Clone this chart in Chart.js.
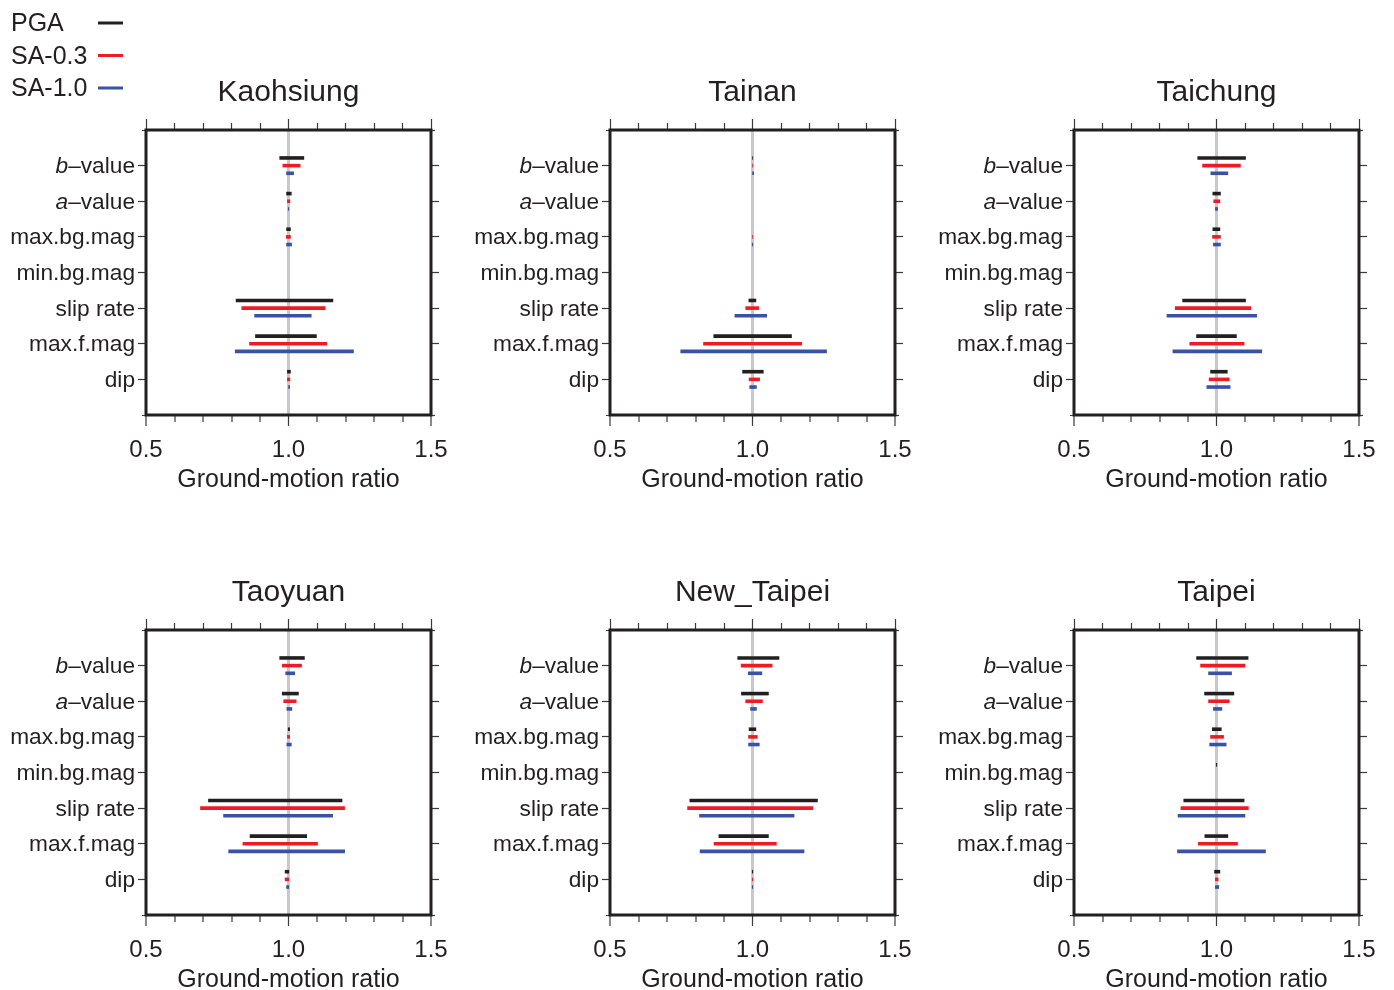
<!DOCTYPE html>
<html>
<head>
<meta charset="utf-8">
<script src="https://cdn.jsdelivr.net/npm/chart.js@4.4.1/dist/chart.umd.min.js"></script>
<style>
  html, body { margin: 0; padding: 0; background: #ffffff; overflow: hidden; }
  #wrap { position: relative; width: 1394px; height: 990px; }
  #wrap canvas { position: absolute; }
</style>
</head>
<body>
<div id="wrap"></div>
<script>
// Source parameters, top to bottom
const params = ['b–value', 'a–value', 'max.bg.mag', 'min.bg.mag', 'slip rate', 'max.f.mag', 'dip'];
const cities = ['Kaohsiung', 'Tainan', 'Taichung', 'Taoyuan', 'New_Taipei', 'Taipei'];
const seriesNames = ['PGA', 'SA-0.3', 'SA-1.0'];
const xTickValues = [0.5, 1.0, 1.5];

// Ground-motion ratio ranges [low, high] per parameter (null = no spread)
const kaohsiungPGA  = [[0.968, 1.055], [0.992, 1.011], [0.992, 1.008], null, [0.815, 1.157], [0.883, 1.099], [0.995, 1.008]];
const kaohsiungSA03 = [[0.979, 1.042], [0.995, 1.006], [0.991, 1.008], null, [0.835, 1.130], [0.862, 1.136], [0.995, 1.006]];
const kaohsiungSA10 = [[0.992, 1.019], [0.998, 1.002], [0.992, 1.012], null, [0.880, 1.081], [0.812, 1.229], [0.999, 1.005]];

const tainanPGA  = [[0.999, 1.002], null, null, null, [0.986, 1.013], [0.863, 1.138], [0.964, 1.039]];
const tainanSA03 = [[0.999, 1.002], null, [0.999, 1.002], null, [0.975, 1.023], [0.827, 1.174], [0.987, 1.026]];
const tainanSA10 = [[0.999, 1.005], null, [0.998, 1.002], null, [0.937, 1.051], [0.747, 1.261], [0.989, 1.015]];

const taichungPGA  = [[0.933, 1.103], [0.986, 1.015], [0.986, 1.013], null, [0.880, 1.103], [0.929, 1.071], [0.978, 1.039]];
const taichungSA03 = [[0.950, 1.085], [0.989, 1.013], [0.985, 1.015], null, [0.854, 1.122], [0.905, 1.098], [0.973, 1.046]];
const taichungSA10 = [[0.979, 1.041], [0.995, 1.005], [0.988, 1.015], null, [0.825, 1.142], [0.846, 1.160], [0.965, 1.049]];

const taoyuanPGA  = [[0.968, 1.057], [0.977, 1.036], [0.998, 1.005], null, [0.718, 1.189], [0.864, 1.065], [0.987, 1.002]];
const taoyuanSA03 = [[0.977, 1.047], [0.982, 1.028], [0.995, 1.005], null, [0.690, 1.198], [0.839, 1.103], [0.987, 1.002]];
const taoyuanSA10 = [[0.989, 1.023], [0.993, 1.013], [0.993, 1.011], null, [0.771, 1.156], [0.789, 1.198], [0.992, 1.002]];

const newTaipeiPGA  = [[0.947, 1.094], [0.960, 1.057], [0.987, 1.013], null, [0.779, 1.229], [0.881, 1.057], [0.998, 1.002]];
const newTaipeiSA03 = [[0.959, 1.070], [0.975, 1.036], [0.985, 1.018], null, [0.771, 1.213], [0.864, 1.085], [0.998, 1.002]];
const newTaipeiSA10 = [[0.984, 1.034], [0.992, 1.015], [0.985, 1.025], null, [0.813, 1.147], [0.815, 1.182], [0.998, 1.002]];

const taipeiPGA  = [[0.929, 1.112], [0.957, 1.062], [0.984, 1.018], [0.998, 1.002], [0.884, 1.098], [0.958, 1.041], [0.992, 1.013]];
const taipeiSA03 = [[0.943, 1.101], [0.971, 1.046], [0.978, 1.026], null, [0.874, 1.113], [0.935, 1.075], [0.995, 1.007]];
const taipeiSA10 = [[0.971, 1.054], [0.988, 1.020], [0.975, 1.035], null, [0.864, 1.101], [0.862, 1.173], [0.995, 1.009]];

const citySeries = [
  [kaohsiungPGA, kaohsiungSA03, kaohsiungSA10],
  [tainanPGA, tainanSA03, tainanSA10],
  [taichungPGA, taichungSA03, taichungSA10],
  [taoyuanPGA, taoyuanSA03, taoyuanSA10],
  [newTaipeiPGA, newTaipeiSA03, newTaipeiSA10],
  [taipeiPGA, taipeiSA03, taipeiSA10]
];

// ---- styling ----
const FONT = '"Liberation Sans", Arial, Helvetica, sans-serif';
const INK = '#231f20';
const TICK_INK = '#3a3a3a';
const SERIES_COLORS = ['#231f20', '#ed1c24', '#3953a4'];
const PANEL_W = 464, PANEL_H = 500;

const tickVal = c => (c && c.tick) ? c.tick.value : NaN;
const isOne = v => Math.abs(v - 1) < 1e-9;
const isMajor = v => xTickValues.some(t => Math.abs(v - t) < 1e-9);

// one empty slot above and below the parameter rows
const rowLabels = [''].concat(params, ['']);
const padRows = arr => [null].concat(arr, [null]);

// Parameter names on the left axis; the letter before the dash is italic
const paramLabelPlugin = {
  id: 'paramLabels',
  afterDraw(chart) {
    const s = chart.scales.y;
    const ctx = chart.ctx;
    const size = 22.7;
    const normal = size + 'px ' + FONT;
    const italic = 'italic ' + size + 'px ' + FONT;
    const xr = chart.chartArea.left - 11;
    ctx.save();
    ctx.fillStyle = INK;
    ctx.textBaseline = 'alphabetic';
    ctx.textAlign = 'left';
    s.ticks.forEach((t, i) => {
      const text = rowLabels[t.value];
      if (!text) return;
      const y = s.getPixelForTick(i) + 7.5;
      const k = text.indexOf('–');
      if (k > 0) {
        const head = text.slice(0, k), rest = text.slice(k);
        ctx.font = normal;
        const wr = ctx.measureText(rest).width;
        ctx.fillText(rest, xr - wr, y);
        ctx.font = italic;
        const wh = ctx.measureText(head).width;
        ctx.fillText(head, xr - wr - wh, y);
      } else {
        ctx.font = normal;
        const w = ctx.measureText(text).width;
        ctx.fillText(text, xr - w, y);
      }
    });
    ctx.restore();
  }
};

// Heavy box around each plot area
const framePlugin = {
  id: 'frame',
  afterDatasetsDraw(chart) {
    const {left, top, right, bottom} = chart.chartArea;
    const ctx = chart.ctx;
    ctx.save();
    ctx.strokeStyle = INK;
    ctx.lineWidth = 3;
    ctx.strokeRect(left, top, right - left, bottom - top);
    ctx.restore();
  }
};

// Series key in the top-left corner (first panel only)
const keyPlugin = {
  id: 'seriesKey',
  afterDraw(chart, args, opts) {
    if (!opts.show) return;
    const ctx = chart.ctx;
    ctx.save();
    ctx.font = '25px ' + FONT;
    ctx.textBaseline = 'alphabetic';
    ctx.textAlign = 'left';
    chart.data.datasets.forEach((ds, i) => {
      const base = 31 + i * 32.5;
      ctx.fillStyle = INK;
      ctx.fillText(ds.label, 11, base);
      ctx.strokeStyle = ds.backgroundColor;
      ctx.lineWidth = 3;
      ctx.beginPath();
      ctx.moveTo(98, base - 8);
      ctx.lineTo(123, base - 8);
      ctx.stroke();
    });
    ctx.restore();
  }
};

const wrap = document.getElementById('wrap');

cities.forEach((city, p) => {
  const canvas = document.createElement('canvas');
  canvas.width = PANEL_W;
  canvas.height = PANEL_H;
  canvas.style.left = (PANEL_W * (p % 3)) + 'px';
  canvas.style.top = (PANEL_H * Math.floor(p / 3)) + 'px';
  wrap.appendChild(canvas);

  const datasets = citySeries[p].map((arr, s) => ({
    label: seriesNames[s],
    data: padRows(arr),
    backgroundColor: SERIES_COLORS[s],
    borderWidth: 0,
    categoryPercentage: 0.646,
    barPercentage: 0.47,
    xAxisID: 'x',
    yAxisID: 'y'
  }));

  new Chart(canvas, {
    type: 'bar',
    data: { labels: rowLabels, datasets },
    plugins: [paramLabelPlugin, framePlugin, keyPlugin],
    options: {
      indexAxis: 'y',
      responsive: false,
      animation: false,
      events: [],
      layout: { padding: 0 },
      plugins: {
        legend: { display: false },
        tooltip: { enabled: false },
        seriesKey: { show: p === 0 }
      },
      scales: {
        x: {
          type: 'linear', position: 'bottom', min: 0.5, max: 1.5,
          afterFit: s => { s.height = 85; },
          border: { display: false },
          grid: {
            drawOnChartArea: true, drawTicks: true, tickLength: 11,
            color: c => isOne(tickVal(c)) ? '#c9c9c9' : 'rgba(0,0,0,0)',
            lineWidth: c => isOne(tickVal(c)) ? 3 : 0,
            tickColor: TICK_INK, tickWidth: 1.2,
            tickBorderDash: c => isMajor(tickVal(c)) ? [] : [7, 200]
          },
          ticks: {
            stepSize: 0.1, autoSkip: false, maxRotation: 0, minRotation: 0,
            padding: 10, color: INK, font: { family: FONT, size: 24 },
            callback: v => isMajor(v) ? v.toFixed(1) : ''
          },
          title: {
            display: true, text: 'Ground-motion ratio', color: INK,
            font: { family: FONT, size: 25 }, padding: { top: 0, bottom: 5 }
          }
        },
        x2: {
          type: 'linear', position: 'top', min: 0.5, max: 1.5,
          afterFit: s => { s.height = 130; },
          border: { display: false },
          grid: {
            drawOnChartArea: false, tickLength: 11, tickColor: TICK_INK, tickWidth: 1.2,
            tickBorderDash: c => isMajor(tickVal(c)) ? [] : [0, 4, 7, 200]
          },
          ticks: { display: false, stepSize: 0.1, autoSkip: false },
          title: {
            display: true, text: city, color: INK,
            font: { family: FONT, size: 30 }, padding: { top: 75, bottom: 0 }
          }
        },
        y: {
          type: 'category', position: 'left', offset: false,
          afterFit: s => { s.width = 146; },
          border: { display: false },
          grid: {
            offset: false,
            drawOnChartArea: false, tickLength: 8, tickColor: TICK_INK, tickWidth: 1.2,
            tickBorderDash: c => rowLabels[tickVal(c)] === '' ? [0, 4, 4, 200] : []
          },
          ticks: { display: false, autoSkip: false }
        },
        y2: {
          type: 'category', position: 'right', offset: false, labels: rowLabels,
          afterFit: s => { s.width = 33; },
          border: { display: false },
          grid: {
            offset: false,
            drawOnChartArea: false, tickLength: 8, tickColor: TICK_INK, tickWidth: 1.2,
            tickBorderDash: c => rowLabels[tickVal(c)] === '' ? [4, 200] : []
          },
          ticks: { display: false, autoSkip: false }
        }
      }
    }
  });
});
</script>
</body>
</html>
